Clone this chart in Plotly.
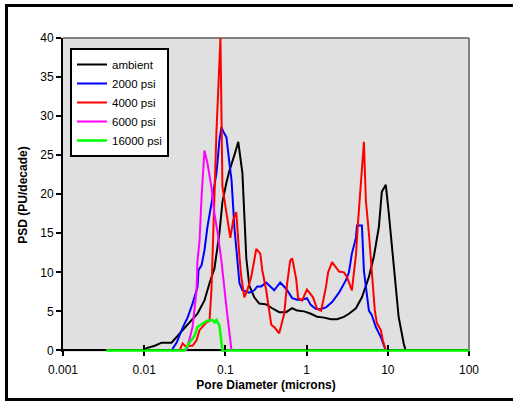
import plotly.graph_objects as go

# ---- data (pore diameter in microns, PSD in PU/decade) ----
ambient_d = [0.0101, 0.0107, 0.0135, 0.0164, 0.0217, 0.0273, 0.0362, 0.0453, 0.0552, 0.0637,
             0.0733, 0.0844, 0.0919, 0.103, 0.112, 0.129, 0.144, 0.162, 0.181, 0.197,
             0.227, 0.261, 0.318, 0.377, 0.460, 0.560, 0.664, 0.764, 0.931, 1.13,
             1.35, 1.64, 2.00, 2.37, 2.88, 3.32, 4.05, 4.80, 5.85, 6.73,
             7.76, 8.44, 9.45, 10.3, 11.9, 13.6, 15.7, 16.6]
ambient_v = [0, 0.3, 0.6, 1.0, 1.0, 2.2, 3.6, 4.7, 6.4, 8.6,
             10.5, 15, 19, 21.5, 23, 25, 26.7, 22.7, 11.8, 8.3,
             6.8, 6.0, 5.9, 5.4, 4.9, 4.9, 5.4, 5.1, 5.0, 4.7,
             4.3, 4.2, 4.0, 4.0, 4.3, 4.7, 5.4, 6.8, 9.4, 12,
             15.8, 20.3, 21.2, 17.5, 10.3, 4.3, 0.9, 0]

psi2000_d = [0.0217, 0.0251, 0.0297, 0.0342, 0.0394, 0.0453, 0.0467, 0.0508, 0.0552, 0.0601,
             0.0673, 0.0776, 0.0844, 0.0893, 0.0944, 0.103, 0.112, 0.119, 0.129, 0.140,
             0.149, 0.162, 0.197, 0.227, 0.247, 0.276, 0.318, 0.399, 0.473, 0.560,
             0.664, 0.764, 0.881, 1.01, 1.13, 1.31, 1.51, 1.73, 2.06, 2.51,
             3.05, 3.32, 3.61, 4.05, 4.17, 4.80, 5.08, 5.85, 6.36, 7.12,
             8.21, 9.45]
psi2000_v = [0, 1.0, 2.9, 4.2, 6.0, 8.1, 10.3, 10.9, 12.8, 15.8,
             18.8, 22.7, 26.9, 28.6, 28.0, 27.3, 24, 21.8, 15.8, 11.8,
             8.6, 7.7, 7.4, 7.7, 8.2, 8.2, 8.7, 7.7, 8.7, 7.9,
             6.7, 6.5, 6.5, 6.7, 5.8, 5.3, 5.3, 5.5, 6.2, 7.4,
             9.0, 10.0, 12.4, 14.4, 16.0, 16.0, 10.2, 5.1, 4.5, 3.0,
             1.7, 0]

psi4000_d = [0.0273, 0.0297, 0.0332, 0.0362, 0.0394, 0.0441, 0.0480, 0.0522, 0.0585, 0.0637,
             0.0673, 0.0692, 0.0776, 0.0869, 0.0893, 0.0919, 0.103, 0.115, 0.125, 0.136,
             0.149, 0.157, 0.171, 0.186, 0.208, 0.240, 0.269, 0.284, 0.318, 0.367,
             0.399, 0.460, 0.530, 0.576, 0.628, 0.664, 0.743, 0.787, 0.881, 1.01,
             1.20, 1.35, 1.51, 1.64, 1.73, 1.84, 2.06, 2.51, 2.88, 3.14,
             3.61, 4.05, 4.29, 5.08, 5.37, 5.85, 6.36, 6.92, 7.33, 8.21,
             8.68, 9.45]
psi4000_v = [0, 0.9, 0.4, 0.6, 0.6, 1.3, 2.6, 3.0, 3.6, 3.8,
             7.7, 11.5, 28, 40, 28, 21, 17.6, 14.4, 16.7, 17.7,
             12, 9.4, 6.8, 7.7, 9.4, 13, 12.4, 10.3, 7.7, 3.3,
             3.0, 2.2, 4.7, 8.6, 11.5, 11.8, 9.2, 6.7, 6.4, 7.8,
             6.8, 5.3, 5.1, 6.7, 8.1, 10, 11.3, 10.1, 10, 9.4,
             7.7, 12.2, 16.3, 26.7, 19.2, 15, 9.4, 5.1, 3.5, 2.6,
             1.3, 0]

psi6000_d = [0.0332, 0.0394, 0.0441, 0.0453, 0.0480, 0.0508, 0.0552, 0.0601, 0.0673, 0.0733,
             0.0798, 0.0893, 0.103, 0.119]
psi6000_v = [0, 3.0, 7.7, 11.5, 14, 19.6, 25.6, 24, 20.9, 17.5,
             15.2, 11.5, 5.5, 0]

psi16000_d = [0.0034, 0.0314, 0.0362, 0.0417, 0.0453, 0.0508, 0.0552, 0.0601, 0.0692, 0.0733,
              0.0776, 0.0844, 0.0919, 100]
psi16000_v = [0, 0, 1.0, 1.9, 3.0, 3.4, 3.6, 3.8, 3.9, 3.6,
              3.9, 3.2, 0, 0]

series_names = ["ambient", "2000 psi", "4000 psi", "6000 psi", "16000 psi"]
series_colors = ["#000000", "#0000FF", "#FF0000", "#FF00FF", "#00FF00"]

x_tickvals = [0.001, 0.01, 0.1, 1, 10, 100]
x_ticktext = ["0.001", "0.01", "0.1", "1", "10", "100"]
y_tickvals = [0, 5, 10, 15, 20, 25, 30, 35, 40]

FONT = "Liberation Sans, Arial, sans-serif"

fig = go.Figure()
all_d = [ambient_d, psi2000_d, psi4000_d, psi6000_d, psi16000_d]
all_v = [ambient_v, psi2000_v, psi4000_v, psi6000_v, psi16000_v]
for i, (d, v) in enumerate(zip(all_d, all_v)):
    fig.add_trace(go.Scatter(
        x=d, y=v, mode="lines", name=series_names[i],
        line=dict(color=series_colors[i], width=2.5 if i == 4 else 2),
        xaxis="x2" if i == 4 else "x",
    ))

ymin, ymax = -0.2, 40
pos0 = (0 - ymin) / (ymax - ymin)

L, R, T, B = 63, 44, 38, 49
W, H = 513, 401
pw, ph = W - L - R, H - T - B

def px2paper_x(px):
    return (px - L) / pw

def py2paper_y(py):
    return (H - B - py) / ph

fig.update_layout(
    width=W, height=H,
    margin=dict(l=L, r=R, t=T, b=B),
    paper_bgcolor="white",
    plot_bgcolor="#E0E0E0",
    font=dict(family=FONT, size=12, color="black"),
    showlegend=True,
    legend=dict(
        x=px2paper_x(70), y=py2paper_y(48), xanchor="left", yanchor="top",
        bgcolor="white", bordercolor="black", borderwidth=2,
        font=dict(family=FONT, size=11.5, color="black"),
        tracegroupgap=0, itemwidth=30,
    ),
    xaxis=dict(
        type="log", range=[-3, 2],
        tickvals=x_tickvals, ticktext=x_ticktext,
        ticks="outside", ticklen=5, tickwidth=2, tickcolor="black",
        showline=True, linecolor="black", linewidth=2,
        showgrid=False, zeroline=False,
        anchor="free", position=pos0,
        layer="below traces",
        ticklabelstandoff=3,
        title=dict(text="<b>Pore Diameter (microns)</b>", standoff=4,
                   font=dict(family=FONT, size=12, color="black")),
    ),
    xaxis2=dict(
        type="log", range=[-3, 2], matches="x", overlaying="x",
        tickvals=x_tickvals,
        ticks="inside", ticklen=5, tickwidth=2, tickcolor="black",
        showticklabels=False, showline=False, showgrid=False, zeroline=False,
        anchor="free", position=pos0, layer="above traces",
    ),
    yaxis=dict(
        range=[ymin, ymax], tickvals=y_tickvals,
        ticks="outside", ticklen=5, tickwidth=2, tickcolor="black",
        showline=True, linecolor="black", linewidth=2,
        showgrid=False, zeroline=False,
        title=dict(text="<b>PSD (PU/decade)</b>", standoff=10,
                   font=dict(family=FONT, size=12, color="black")),
    ),
    shapes=[
        dict(type="line", xref="paper", yref="paper", x0=0, x1=1, y0=1, y1=1,
             line=dict(color="#808080", width=2), layer="below"),
        dict(type="line", xref="paper", yref="paper", x0=1, x1=1, y0=pos0, y1=1,
             line=dict(color="#808080", width=2), layer="below"),
        dict(type="rect", xref="paper", yref="paper",
             x0=px2paper_x(6.5), x1=px2paper_x(530),
             y0=py2paper_y(399.5), y1=py2paper_y(5.5),
             line=dict(color="black", width=3), fillcolor="rgba(0,0,0,0)", layer="above"),
    ],
)

fig.write_html("out.html")
